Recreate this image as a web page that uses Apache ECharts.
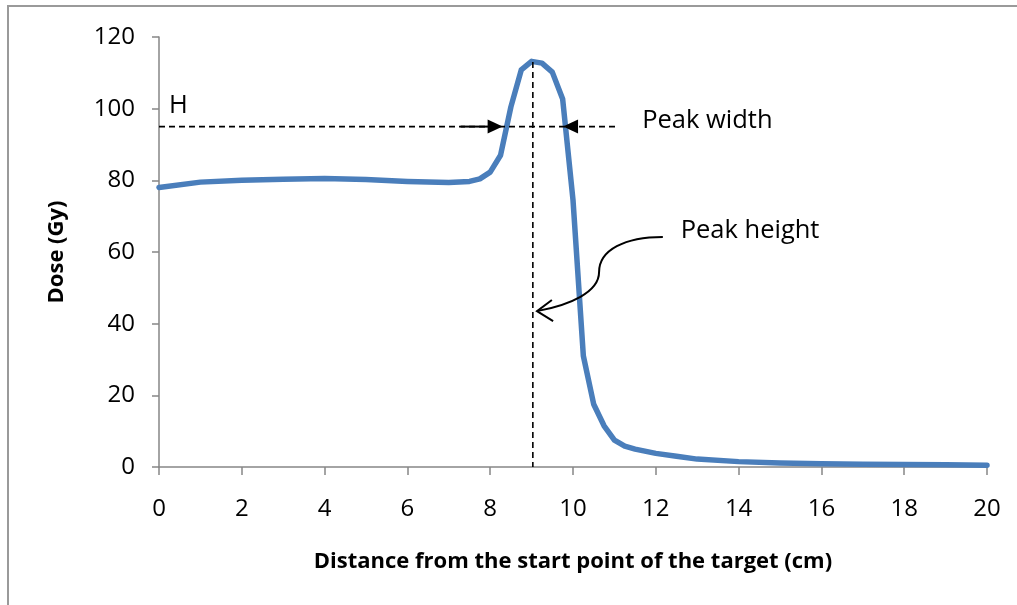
<!DOCTYPE html>
<html><head><meta charset="utf-8">
<script src="https://cdn.jsdelivr.net/npm/echarts@6/dist/echarts.min.js"></script>
<style>html,body{margin:0;padding:0;background:#fff}#c{width:1017px;height:605px}</style>
</head><body><div id="c"></div>
<script>
// Data
const distance = [0,1,2,3,4,5,6,7,7.5,7.75,8,8.25,8.5,8.75,9,9.25,9.5,9.75,10,10.25,10.5,10.75,11,11.25,11.5,12,12.5,13,14,15,16,17,18,19,20];
const dose     = [78,79.5,80,80.3,80.5,80.2,79.7,79.4,79.7,80.4,82.3,87,100.5,110.8,113.2,112.7,110.2,102.7,74.5,31,17.5,11.5,7.5,5.8,5,3.8,3,2.2,1.5,1.1,0.9,0.8,0.7,0.6,0.5];

// Annotation geometry (data units)
const hLevel = 95, hLineEnd = 11.1, arrowInTip = 8.3, arrowOutTip = 9.76;
const peakX = 9.03, peakTop = 113;
const labelH = [0.24, 100.8], labelWidth = [11.67, 96.6], labelHeight = [12.6, 65.9];
const curve = [[12.17,64.2],[11.26,64.2],[10.63,60.6],[10.63,54.4],[10.63,48.8],[9.93,45.2],[9.13,43.5]];
const curveWings = [[9.49,46.6],[9.52,40.7]];

const chart = echarts.init(document.getElementById('c'));
const FONT = 'Open Sans';
chart.setOption({
  animation: false,
  backgroundColor: '#fff',
  grid: {left: 159, right: 30, top: 37, bottom: 138, containLabel: false},
  xAxis: {
    type: 'value', min: 0, max: 20, interval: 2,
    name: 'Distance from the start point of the target (cm)',
    nameLocation: 'middle', nameGap: 84,
    nameTextStyle: {fontFamily: FONT, fontSize: 22, fontWeight: 'bold', color: '#000'},
    axisLine: {show: true, lineStyle: {color: '#868686', width: 1.5}},
    axisTick: {show: true, length: 8, lineStyle: {color: '#868686', width: 1.5}},
    axisLabel: {fontFamily: FONT, fontSize: 24, color: '#000', margin: 30},
    splitLine: {show: false}
  },
  yAxis: {
    type: 'value', min: 0, max: 120, interval: 20,
    name: 'Dose (Gy)', nameLocation: 'middle', nameGap: 91,
    nameTextStyle: {fontFamily: FONT, fontSize: 22, fontWeight: 'bold', color: '#000'},
    axisLine: {show: true, lineStyle: {color: '#868686', width: 1.5}},
    axisTick: {show: true, length: 7, lineStyle: {color: '#868686', width: 1.5}},
    axisLabel: {fontFamily: FONT, fontSize: 24, color: '#000', margin: 24},
    splitLine: {show: false}
  },
  series: [{
    type: 'line', smooth: false, showSymbol: false,
    data: distance.map((d, i) => [d, dose[i]]),
    lineStyle: {color: '#4a7ebb', width: 5.5, cap: 'round', join: 'round'},
    z: 2
  }]
});

function px(p) { return chart.convertToPixel({xAxisIndex: 0, yAxisIndex: 0}, p); }

const hStart = px([0, hLevel]), hEnd = px([hLineEnd, hLevel]);
const tipIn = px([arrowInTip, hLevel]), tipOut = px([arrowOutTip, hLevel]);
const vTop = px([peakX, peakTop]), vBot = px([peakX, 0]);
const c = curve.map(px);
const w = curveWings.map(px);
const dash = {stroke: '#000', lineWidth: 1.6, lineDash: [6, 4]};
const textStyle = (t) => ({text: t, fill: '#000', font: '25.5px "' + FONT + '"', textVerticalAlign: 'middle', textAlign: 'left'});
const pH = px(labelH), pW = px(labelWidth), pHt = px(labelHeight);

chart.setOption({
  graphic: [
    {type: 'rect', z: 1, shape: {x: 8, y: 6, width: 1200, height: 800}, style: {fill: 'none', stroke: '#9a9a9a', lineWidth: 2}},
    {type: 'line', z: 100, shape: {x1: hStart[0], y1: hStart[1], x2: hEnd[0], y2: hEnd[1]}, style: dash},
    {type: 'line', z: 100, shape: {x1: tipIn[0] - 42, y1: tipIn[1], x2: tipIn[0] - 14, y2: tipIn[1]}, style: {stroke: '#000', lineWidth: 2}},
    {type: 'polygon', z: 100, shape: {points: [[tipIn[0], tipIn[1]], [tipIn[0] - 15, tipIn[1] - 7], [tipIn[0] - 15, tipIn[1] + 7]]}, style: {fill: '#000'}},
    {type: 'polygon', z: 100, shape: {points: [[tipOut[0], tipOut[1]], [tipOut[0] + 15, tipOut[1] - 7], [tipOut[0] + 15, tipOut[1] + 7]]}, style: {fill: '#000'}},
    {type: 'line', z: 100, shape: {x1: vTop[0], y1: vTop[1], x2: vBot[0], y2: vBot[1]}, style: dash},
    {type: 'bezierCurve', z: 100, shape: {x1: c[0][0], y1: c[0][1], cpx1: c[1][0], cpy1: c[1][1], cpx2: c[2][0], cpy2: c[2][1], x2: c[3][0], y2: c[3][1]}, style: {stroke: '#000', lineWidth: 2, fill: 'none'}},
    {type: 'bezierCurve', z: 100, shape: {x1: c[3][0], y1: c[3][1], cpx1: c[4][0], cpy1: c[4][1], cpx2: c[5][0], cpy2: c[5][1], x2: c[6][0], y2: c[6][1]}, style: {stroke: '#000', lineWidth: 2, fill: 'none'}},
    {type: 'polyline', z: 100, shape: {points: [w[0], c[6], w[1]]}, style: {stroke: '#000', lineWidth: 2, fill: 'none'}},
    {type: 'text', z: 100, x: pH[0], y: pH[1], style: textStyle('H')},
    {type: 'text', z: 100, x: pW[0], y: pW[1], style: textStyle('Peak width')},
    {type: 'text', z: 100, x: pHt[0], y: pHt[1], style: textStyle('Peak height')}
  ]
});
</script>
</body></html>
